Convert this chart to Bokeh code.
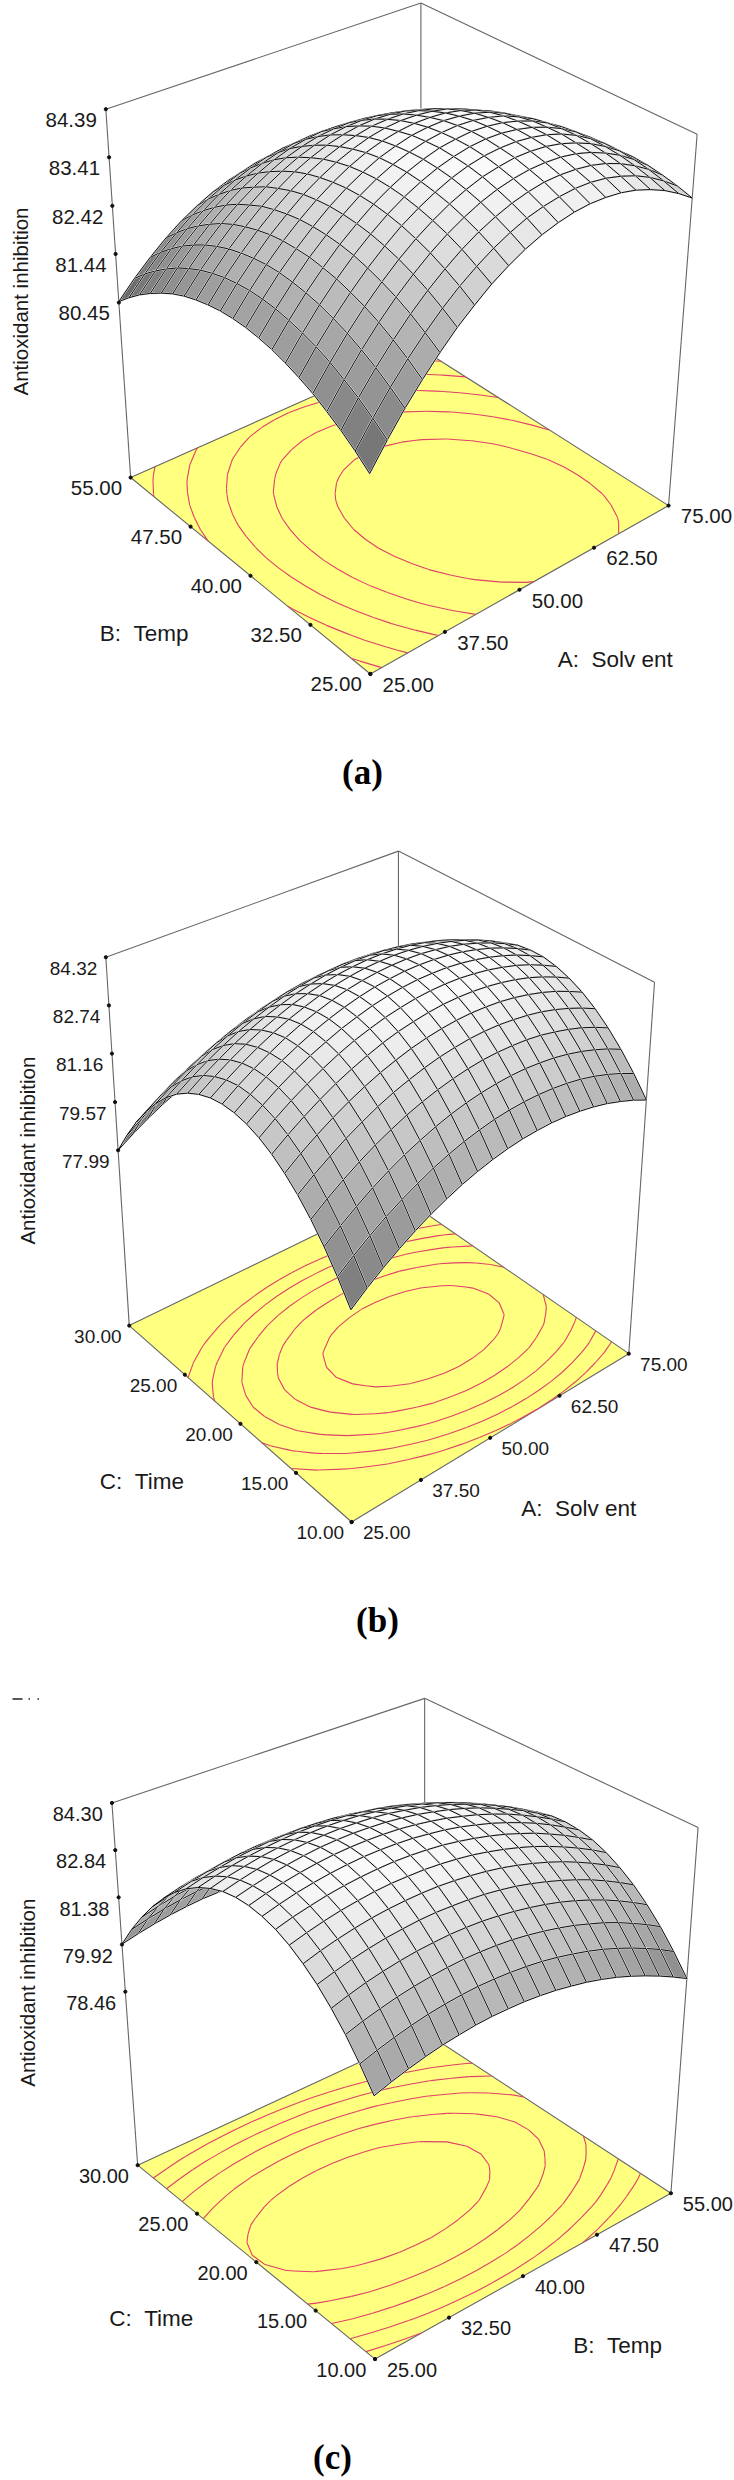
from bokeh.plotting import figure
from bokeh.models import ColumnDataSource
from bokeh.core.properties import value
from bokeh.embed import file_html
from bokeh.resources import INLINE
import numpy as np

# Response heights (Antioxidant inhibition) on the 21 x 21 mesh.
# Rows: first factor, low to high. Columns: second factor, low to high.
Z_A = [
[80.65,80.88,81.08,81.25,81.41,81.53,81.63,81.71,81.76,81.79,81.79,81.77,81.72,81.65,81.56,81.44,81.29,81.12,80.93,80.71,80.47],
[81.12,81.34,81.54,81.70,81.85,81.97,82.06,82.13,82.18,82.20,82.20,82.17,82.12,82.04,81.94,81.81,81.66,81.48,81.28,81.06,80.81],
[81.56,81.77,81.96,82.12,82.26,82.37,82.46,82.52,82.56,82.58,82.57,82.53,82.47,82.39,82.28,82.15,81.99,81.81,81.60,81.37,81.11],
[81.95,82.16,82.34,82.50,82.63,82.73,82.82,82.87,82.91,82.91,82.90,82.86,82.79,82.70,82.59,82.45,82.28,82.09,81.88,81.64,81.38],
[82.31,82.51,82.69,82.84,82.96,83.06,83.14,83.19,83.21,83.21,83.19,83.14,83.07,82.98,82.85,82.71,82.54,82.34,82.12,81.88,81.61],
[82.64,82.83,83.00,83.14,83.26,83.35,83.42,83.46,83.48,83.48,83.45,83.40,83.32,83.21,83.09,82.93,82.76,82.56,82.33,82.08,81.80],
[82.92,83.11,83.27,83.41,83.52,83.61,83.67,83.71,83.72,83.71,83.67,83.61,83.53,83.42,83.28,83.12,82.94,82.73,82.50,82.24,81.96],
[83.18,83.35,83.51,83.64,83.74,83.82,83.88,83.91,83.92,83.90,83.86,83.79,83.70,83.58,83.44,83.28,83.09,82.87,82.63,82.37,82.08],
[83.39,83.56,83.71,83.83,83.93,84.00,84.05,84.08,84.08,84.06,84.01,83.93,83.83,83.71,83.56,83.39,83.20,82.97,82.73,82.46,82.16],
[83.57,83.73,83.87,83.99,84.08,84.15,84.19,84.21,84.20,84.17,84.12,84.04,83.93,83.80,83.65,83.47,83.27,83.04,82.79,82.51,82.21],
[83.71,83.87,84.00,84.11,84.20,84.26,84.29,84.31,84.29,84.26,84.19,84.11,84.00,83.86,83.70,83.51,83.31,83.07,82.81,82.53,82.22],
[83.81,83.96,84.09,84.19,84.27,84.33,84.36,84.36,84.34,84.30,84.23,84.14,84.02,83.88,83.71,83.52,83.30,83.06,82.80,82.51,82.19],
[83.88,84.02,84.15,84.24,84.32,84.36,84.39,84.39,84.36,84.31,84.23,84.13,84.01,83.86,83.69,83.49,83.27,83.02,82.75,82.45,82.13],
[83.91,84.05,84.16,84.25,84.32,84.36,84.38,84.37,84.34,84.28,84.20,84.09,83.96,83.81,83.63,83.42,83.19,82.94,82.66,82.36,82.03],
[83.90,84.04,84.14,84.23,84.29,84.32,84.33,84.32,84.28,84.22,84.13,84.02,83.88,83.72,83.53,83.32,83.08,82.82,82.54,82.23,81.90],
[83.86,83.99,84.09,84.17,84.22,84.25,84.25,84.23,84.19,84.12,84.02,83.90,83.76,83.59,83.40,83.18,82.94,82.67,82.38,82.06,81.72],
[83.78,83.90,84.00,84.07,84.11,84.14,84.13,84.11,84.05,83.98,83.88,83.75,83.60,83.43,83.23,83.00,82.76,82.48,82.18,81.86,81.51],
[83.66,83.78,83.87,83.93,83.97,83.99,83.98,83.95,83.89,83.80,83.70,83.56,83.41,83.23,83.02,82.79,82.54,82.26,81.95,81.62,81.27],
[83.51,83.62,83.70,83.76,83.79,83.80,83.79,83.75,83.68,83.59,83.48,83.34,83.18,82.99,82.78,82.54,82.28,81.99,81.68,81.35,80.99],
[83.32,83.42,83.50,83.55,83.58,83.58,83.56,83.51,83.44,83.35,83.23,83.08,82.91,82.72,82.50,82.25,81.99,81.69,81.38,81.03,80.67],
[83.10,83.19,83.26,83.31,83.33,83.32,83.29,83.24,83.16,83.06,82.93,82.78,82.61,82.41,82.18,81.93,81.66,81.36,81.03,80.69,80.31],
]
Z_B = [
[78.62,79.31,79.92,80.46,80.92,81.30,81.61,81.84,82.00,82.08,82.09,82.02,81.87,81.65,81.36,80.99,80.54,80.02,79.42,78.74,77.99],
[79.02,79.70,80.31,80.84,81.30,81.68,81.98,82.21,82.36,82.44,82.45,82.37,82.22,82.00,81.70,81.32,80.87,80.35,79.74,79.07,78.31],
[79.38,80.06,80.66,81.19,81.64,82.02,82.32,82.55,82.70,82.77,82.77,82.69,82.54,82.31,82.01,81.63,81.18,80.65,80.04,79.36,78.60],
[79.71,80.39,80.99,81.51,81.96,82.33,82.63,82.85,83.00,83.07,83.06,82.98,82.83,82.60,82.29,81.91,81.45,80.91,80.30,79.62,78.86],
[80.01,80.68,81.28,81.80,82.24,82.61,82.91,83.12,83.27,83.33,83.33,83.24,83.08,82.85,82.54,82.15,81.69,81.15,80.54,79.85,79.08],
[80.28,80.94,81.54,82.05,82.50,82.86,83.15,83.37,83.50,83.57,83.56,83.47,83.30,83.07,82.75,82.36,81.89,81.35,80.74,80.04,79.27],
[80.51,81.18,81.76,82.28,82.72,83.08,83.36,83.58,83.71,83.77,83.75,83.66,83.50,83.25,82.93,82.54,82.07,81.53,80.90,80.21,79.44],
[80.72,81.38,81.96,82.47,82.90,83.26,83.55,83.75,83.88,83.94,83.92,83.83,83.65,83.41,83.09,82.69,82.22,81.67,81.04,80.34,79.57],
[80.89,81.55,82.13,82.63,83.06,83.42,83.70,83.90,84.03,84.08,84.06,83.96,83.78,83.53,83.21,82.81,82.33,81.78,81.15,80.44,79.66],
[81.03,81.68,82.26,82.76,83.19,83.54,83.81,84.01,84.14,84.19,84.16,84.06,83.88,83.63,83.30,82.89,82.41,81.85,81.22,80.51,79.73],
[81.14,81.79,82.36,82.86,83.28,83.63,83.90,84.10,84.22,84.26,84.23,84.13,83.94,83.69,83.35,82.94,82.46,81.90,81.26,80.55,79.77],
[81.22,81.86,82.43,82.93,83.35,83.69,83.96,84.15,84.27,84.31,84.27,84.16,83.98,83.72,83.38,82.97,82.48,81.91,81.28,80.56,79.77],
[81.26,81.90,82.47,82.96,83.38,83.72,83.98,84.17,84.28,84.32,84.28,84.17,83.98,83.71,83.37,82.96,82.47,81.90,81.25,80.54,79.74],
[81.28,81.91,82.48,82.96,83.38,83.71,83.97,84.16,84.27,84.30,84.26,84.14,83.95,83.68,83.34,82.92,82.42,81.85,81.20,80.48,79.68],
[81.26,81.89,82.45,82.94,83.34,83.68,83.93,84.11,84.22,84.25,84.20,84.08,83.89,83.61,83.27,82.84,82.34,81.77,81.12,80.39,79.59],
[81.21,81.84,82.40,82.88,83.28,83.61,83.86,84.04,84.14,84.17,84.12,83.99,83.79,83.52,83.17,82.74,82.24,81.66,81.00,80.27,79.47],
[81.13,81.76,82.31,82.78,83.19,83.51,83.76,83.93,84.03,84.05,84.00,83.87,83.67,83.39,83.03,82.60,82.10,81.51,80.86,80.12,79.31],
[81.02,81.64,82.19,82.66,83.06,83.38,83.63,83.80,83.89,83.91,83.85,83.72,83.51,83.23,82.87,82.44,81.92,81.34,80.68,79.94,79.13],
[80.87,81.49,82.04,82.51,82.90,83.22,83.46,83.63,83.72,83.73,83.67,83.54,83.32,83.04,82.67,82.24,81.72,81.13,80.47,79.73,78.91],
[80.70,81.31,81.86,82.32,82.71,83.02,83.26,83.42,83.51,83.52,83.46,83.32,83.10,82.81,82.45,82.01,81.49,80.89,80.23,79.48,78.66],
[80.49,81.10,81.64,82.10,82.49,82.80,83.03,83.19,83.28,83.28,83.22,83.07,82.85,82.56,82.19,81.74,81.22,80.62,79.95,79.20,78.38],
]
Z_C = [
[80.47,81.10,81.67,82.16,82.59,82.94,83.23,83.45,83.59,83.67,83.68,83.62,83.48,83.28,83.01,82.67,82.26,81.78,81.23,80.62,79.93],
[80.64,81.27,81.84,82.33,82.75,83.11,83.39,83.61,83.75,83.83,83.83,83.77,83.64,83.43,83.16,82.82,82.41,81.92,81.37,80.75,80.06],
[80.79,81.42,81.98,82.48,82.90,83.25,83.53,83.74,83.89,83.96,83.96,83.90,83.76,83.56,83.28,82.94,82.53,82.04,81.49,80.87,80.17],
[80.92,81.55,82.11,82.60,83.02,83.37,83.65,83.86,84.00,84.07,84.07,84.01,83.87,83.66,83.39,83.04,82.62,82.14,81.58,80.96,80.26],
[81.03,81.66,82.21,82.70,83.12,83.47,83.74,83.95,84.09,84.16,84.16,84.09,83.95,83.74,83.46,83.12,82.70,82.21,81.65,81.03,80.33],
[81.11,81.74,82.29,82.78,83.19,83.54,83.82,84.02,84.16,84.23,84.23,84.15,84.01,83.80,83.52,83.17,82.75,82.26,81.70,81.07,80.38],
[81.18,81.80,82.35,82.83,83.25,83.59,83.87,84.07,84.21,84.27,84.27,84.19,84.05,83.84,83.55,83.20,82.78,82.29,81.73,81.10,80.40],
[81.22,81.84,82.39,82.87,83.28,83.62,83.89,84.10,84.23,84.29,84.29,84.21,84.07,83.85,83.57,83.21,82.79,82.29,81.73,81.10,80.40],
[81.23,81.85,82.40,82.88,83.28,83.63,83.90,84.10,84.23,84.29,84.28,84.20,84.06,83.84,83.55,83.20,82.77,82.28,81.71,81.08,80.37],
[81.23,81.84,82.39,82.87,83.27,83.61,83.88,84.08,84.21,84.27,84.26,84.18,84.03,83.81,83.52,83.16,82.73,82.24,81.67,81.03,80.33],
[81.20,81.81,82.36,82.83,83.24,83.57,83.84,84.04,84.16,84.22,84.21,84.13,83.97,83.75,83.46,83.10,82.67,82.17,81.61,80.97,80.26],
[81.15,81.76,82.30,82.77,83.18,83.51,83.78,83.97,84.10,84.15,84.14,84.05,83.90,83.68,83.38,83.02,82.59,82.09,81.52,80.88,80.17],
[81.07,81.68,82.22,82.69,83.10,83.43,83.69,83.88,84.01,84.06,84.04,83.96,83.80,83.58,83.28,82.92,82.48,81.98,81.41,80.77,80.05],
[80.98,81.58,82.12,82.59,82.99,83.32,83.58,83.77,83.89,83.94,83.93,83.84,83.68,83.45,83.16,82.79,82.36,81.85,81.28,80.63,79.92],
[80.86,81.46,82.00,82.47,82.86,83.19,83.45,83.64,83.76,83.81,83.79,83.70,83.54,83.31,83.01,82.64,82.20,81.70,81.12,80.47,79.76],
[80.72,81.32,81.85,82.32,82.71,83.04,83.30,83.48,83.60,83.65,83.63,83.53,83.37,83.14,82.84,82.47,82.03,81.52,80.94,80.29,79.58],
[80.55,81.15,81.69,82.15,82.54,82.87,83.12,83.31,83.42,83.47,83.44,83.35,83.18,82.95,82.65,82.28,81.83,81.32,80.74,80.09,79.37],
[80.36,80.96,81.50,81.96,82.35,82.67,82.92,83.10,83.22,83.26,83.23,83.14,82.97,82.74,82.43,82.06,81.62,81.10,80.52,79.87,79.14],
[80.15,80.75,81.28,81.74,82.13,82.45,82.70,82.88,82.99,83.03,83.01,82.91,82.74,82.50,82.20,81.82,81.37,80.86,80.27,79.62,78.90],
[79.92,80.52,81.05,81.50,81.89,82.21,82.46,82.63,82.74,82.78,82.75,82.65,82.48,82.24,81.94,81.56,81.11,80.59,80.01,79.35,78.62],
[79.67,80.26,80.79,81.24,81.63,81.94,82.19,82.37,82.47,82.51,82.48,82.38,82.21,81.96,81.65,81.27,80.82,80.30,79.72,79.06,78.33],
]
Z_TICKS_A = ["84.39","83.41","82.42","81.44","80.45"]
Z_TICKS_B = ["84.32","82.74","81.16","79.57","77.99"]
Z_TICKS_C = ["84.30","82.84","81.38","79.92","78.46"]
SOLVENT_TICKS = ["25.00","37.50","50.00","62.50","75.00"]
TEMP_TICKS = ["25.00","32.50","40.00","47.50","55.00"]
TIME_TICKS = ["10.00","15.00","20.00","25.00","30.00"]
LEVELS_A = [83.745,83.055,82.355,81.655,80.965]
LEVELS_B = [83.805,83.175,82.545,81.915,81.285]
LEVELS_C = [83.705,83.005,82.305,81.605,80.905]

SX, SY = 2.136, 1.96
FONT = value("Liberation Sans")
N = 21
S_A, S_T, S_C = "A:\u00a0\u00a0Solv ent", "B:\u00a0\u00a0Temp", "C:\u00a0\u00a0Time"

PANELS = [
 dict(y0=0, F=(790,1320),R=(1427,990),B=(898,682),L=(278,935),
      tF=(787,537),tR=(1488,262),tB=(898,5),tL=(225,213),zf=.475,Z=Z_A,zt=Z_TICKS_A,ut=SOLVENT_TICKS,vt=TEMP_TICKS,
      utitle=S_A,vtitle=S_T,ut_xy=(1313,1292),vt_xy=(307,1240),yl=(42,590),
      off=[(-74,21),(81,21),(-73,20)],fs=20.5,lev=LEVELS_A,tag="(a)",tag_xy=(362,772)),
 dict(y0=820, F=(750,1375),R=(1342,1045),B=(850,733),L=(275,990),
      tF=(747,587),tR=(1397,317),tB=(850,60),tL=(225,268),zf=.476,Z=Z_B,zt=Z_TICKS_B,ut=SOLVENT_TICKS,vt=TIME_TICKS,
      utitle=S_A,vtitle=S_C,ut_xy=(1235,1348),vt_xy=(302,1295),yl=(57,647),
      off=[(-69,22),(75,21),(-67,21)],fs=19,lev=LEVELS_B,tag="(b)",tag_xy=(377,1620)),
 dict(y0=1680, F=(800,1330),R=(1432,1005),B=(906,689),L=(293,950),
      tF=(797,546),tR=(1490,288),tB=(906,35),tL=(238,240),zf=.479,Z=Z_C,zt=Z_TICKS_C,ut=TEMP_TICKS,vt=TIME_TICKS,
      utitle=S_T,vtitle=S_C,ut_xy=(1318,1303),vt_xy=(322,1250),yl=(58,612),
      off=[(-73,22),(79,21),(-72,21)],fs=20,lev=LEVELS_C,tag="(c)",tag_xy=(332,2457)),
]

def homog(F,R,B,L):
    (x0,y0),(x1,y1),(x2,y2),(x3,y3)=F,R,B,L
    dx1,dx2,sx=x1-x2,x3-x2,x0-x1+x2-x3
    dy1,dy2,sy=y1-y2,y3-y2,y0-y1+y2-y3
    d=dx1*dy2-dx2*dy1
    g=(sx*dy2-dx2*sy)/d; h=(dx1*sy-sx*dy1)/d
    a,b,c=x1-x0+g*x1,x3-x0+h*x3,x0
    e,f_,k=y1-y0+g*y1,y3-y0+h*y3,y0
    def H(s,t):
        den=g*s+h*t+1
        return (a*s+b*t+c)/den,(e*s+f_*t+k)/den
    return H

p=figure(width=734,height=2480,x_range=(0,734),y_range=(2480,0),toolbar_location=None,
         output_backend="svg",x_axis_location=None,y_axis_location=None,min_border=0,outline_line_color=None)
p.grid.visible=False

def draw(P):
    Hf=homog(P["F"],P["R"],P["B"],P["L"]); Ht=homog(P["tF"],P["tR"],P["tB"],P["tL"])
    ztop,zlow,zf=float(P["zt"][0]),float(P["zt"][-1]),P["zf"]
    dz=(ztop-zlow)/(1-zf)
    y0=P["y0"]
    Z=P["Z"]
    def proj(s,t,z):
        w=1-(ztop-z)/dz
        fx,fy=Hf(s,t); tx,ty=Ht(s,t)
        return (fx+w*(tx-fx))/SX, y0+(fy+w*(ty-fy))/SY
    def scr(c): return c[0]/SX, y0+c[1]/SY
    S=[i/(N-1) for i in range(N)]
    Lc,Fc,Rc,Bc=[scr(P[k]) for k in "LFRB"]
    tL,tR,tB=[scr(P[k]) for k in ("tL","tR","tB")]
    p.patch([Fc[0],Rc[0],Bc[0],Lc[0]],[Fc[1],Rc[1],Bc[1],Lc[1]],fill_color="#ffff80",line_color="#666666",line_width=1.1)
    for A_,B_ in [(Lc,tL),(Rc,tR),(Bc,tB),(tL,tB),(tR,tB)]:
        p.line([A_[0],B_[0]],[A_[1],B_[1]],line_color="#666666",line_width=1.1)
    xs,ys=[],[]
    for lv in P["lev"]:
        for i in range(N-1):
            for j in range(N-1):
                cs=[(S[i],S[j],Z[i][j]),(S[i+1],S[j],Z[i+1][j]),(S[i+1],S[j+1],Z[i+1][j+1]),(S[i],S[j+1],Z[i][j+1])]
                pts=[]
                for k in range(4):
                    A_,B_=cs[k],cs[(k+1)%4]
                    if (A_[2]-lv)*(B_[2]-lv)<0:
                        f=(lv-A_[2])/(B_[2]-A_[2])
                        fx,fy=Hf(A_[0]+f*(B_[0]-A_[0]),A_[1]+f*(B_[1]-A_[1]))
                        pts.append((fx/SX,y0+fy/SY))
                for k in range(0,len(pts)-1,2):
                    xs.append([pts[k][0],pts[k+1][0]]); ys.append([pts[k][1],pts[k+1][1]])
    p.multi_line(xs,ys,line_color="#e0406a",line_width=1.1)
    tx,ty=[],[]
    lab=[[],[],[]]
    for t in P["zt"]:
        x,y=proj(0,1,float(t)); tx.append(x);ty.append(y)
        lab[0].append((x+P["off"][0][0]/SX,y+P["off"][0][1]/SY,t))
    for k,t in enumerate(P["ut"]):
        f=k/4; x=Fc[0]+f*(Rc[0]-Fc[0]); y=Fc[1]+f*(Rc[1]-Fc[1]); tx.append(x);ty.append(y)
        lab[1].append((x+P["off"][1][0]/SX,y+P["off"][1][1]/SY,t))
    for k,t in enumerate(P["vt"]):
        f=k/4; x=Fc[0]+f*(Lc[0]-Fc[0]); y=Fc[1]+f*(Lc[1]-Fc[1]); tx.append(x);ty.append(y)
        lab[2].append((x+P["off"][2][0]/SX,y+P["off"][2][1]/SY,t))
    zr=ztop-zlow
    cells=sorted([(i,j) for i in range(N-1) for j in range(N-1)],key=lambda c:-(c[0]+c[1]))
    d=dict(xs=[],ys=[],fc=[],fa=[],lc=[],lw=[])
    for i,j in cells:
        corners=[(i,j),(i+1,j),(i+1,j+1),(i,j+1)]
        pts=[proj(S[a_],S[b_],Z[a_][b_]) for a_,b_ in corners]
        zm=np.mean([Z[a_][b_] for a_,b_ in corners])
        f=max(0.0,(zm-zlow)/zr)
        gr=int(min(250,92+165*f**.9))
        col="#%02x%02x%02x"%(gr,gr,gr)
        X=[q[0] for q in pts];Y=[q[1] for q in pts]
        d["xs"].append(X);d["ys"].append(Y);d["fc"].append(col);d["fa"].append(1.0);d["lc"].append("#e4e4e4");d["lw"].append(1.7)
        d["xs"].append(X);d["ys"].append(Y);d["fc"].append(col);d["fa"].append(0.0);d["lc"].append("#000000");d["lw"].append(0.95)
    p.patches("xs","ys",source=ColumnDataSource(d),fill_color="fc",fill_alpha="fa",line_color="lc",line_width="lw")
    p.scatter(tx,ty,size=3.2,color="#111111")
    for grp in lab:
        p.text([q[0] for q in grp],[q[1] for q in grp],text=[q[2] for q in grp],text_font=FONT,
                text_font_size=f'{P["fs"]}px',text_align="center",text_baseline="middle",text_color="#1a1a1a")
    for t,xy in [(P["utitle"],P["ut_xy"]),(P["vtitle"],P["vt_xy"])]:
        p.text([xy[0]/SX],[y0+xy[1]/SY],text=[t],text_font=FONT,text_font_size="22.5px",text_align="center",text_baseline="middle",text_color="#1a1a1a")
    p.text([P["yl"][0]/SX],[y0+P["yl"][1]/SY],text=["Antioxidant inhibition"],text_font=FONT,text_font_size="20.5px",
           angle=[np.pi/2],text_align="center",text_baseline="middle",text_color="#1a1a1a")
    p.text([P["tag_xy"][0]],[P["tag_xy"][1]],text=[P["tag"]],text_font=value("Liberation Serif"),text_font_style="bold",
           text_font_size="35px",text_align="center",text_baseline="middle",text_color="#000000")

for P in PANELS: draw(P)
p.multi_line([[12,22],[28,29.5],[37,38.5]],[[1698.5,1698.5]]*3,line_color="#222222",line_width=1.5)
open("out.html","w").write(file_html(p,INLINE))
